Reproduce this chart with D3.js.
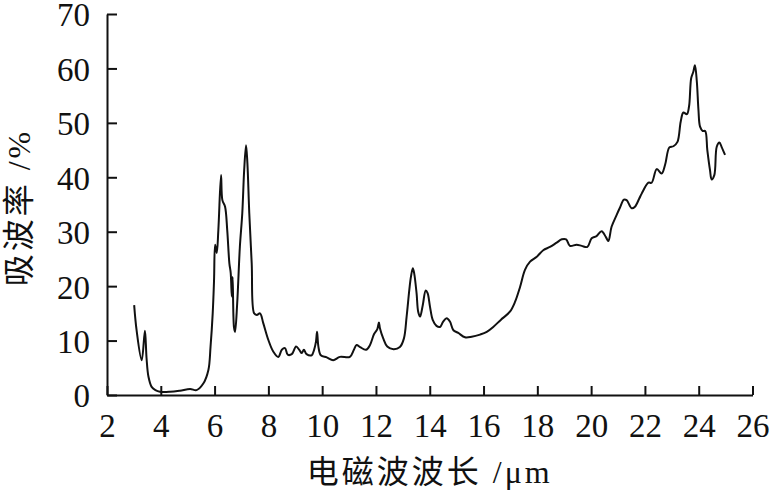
<!DOCTYPE html>
<html>
<head>
<meta charset="utf-8">
<script src="https://cdn.jsdelivr.net/npm/d3@7"></script>
<style>
  html, body { margin: 0; padding: 0; background: #fff; }
  svg { display: block; }
  text { font-family: "Liberation Serif", "Noto Sans CJK SC", serif; fill: #111; }
</style>
</head>
<body>
<svg id="chart" width="771" height="492"></svg>
<script>
// Wavelength (μm)
const wavelength = [
  3.01, 3.10, 3.29, 3.41, 3.47, 3.54, 3.66, 3.80, 3.97, 4.34, 4.71, 5.09, 5.33, 5.58, 5.77, 5.85, 5.93, 5.98,
  6.02, 6.08, 6.14, 6.24, 6.29, 6.39, 6.47, 6.55, 6.60, 6.64, 6.67, 6.72, 6.76, 6.84, 6.94, 7.03, 7.10, 7.17,
  7.22, 7.29, 7.38, 7.47, 7.57, 7.69, 7.81, 8.00, 8.18, 8.37, 8.50, 8.62, 8.72, 8.87, 9.03, 9.15, 9.24, 9.32,
  9.42, 9.61, 9.70, 9.77, 9.81, 9.86, 9.95, 10.17, 10.41, 10.66, 11.03, 11.18, 11.28, 11.41, 11.63, 11.78,
  11.93, 12.05, 12.11, 12.15, 12.27, 12.42, 12.65, 12.89, 13.04, 13.14, 13.24, 13.30, 13.37, 13.42, 13.51,
  13.57, 13.64, 13.74, 13.85, 13.92, 14.01, 14.11, 14.25, 14.38, 14.50, 14.63, 14.75, 14.88, 15.06, 15.31,
  15.56, 15.87, 16.12, 16.36, 16.64, 16.98, 17.17, 17.36, 17.54, 17.73, 17.98, 18.22, 18.47, 18.72, 18.91,
  19.07, 19.21, 19.46, 19.65, 19.86, 20.02, 20.20, 20.39, 20.55, 20.64, 20.76, 20.95, 21.07, 21.22, 21.32,
  21.51, 21.63, 21.79, 21.88, 22.13, 22.25, 22.44, 22.62, 22.75, 22.91, 23.06, 23.21, 23.33, 23.43, 23.56,
  23.64, 23.72, 23.80, 23.86, 23.93, 23.99, 24.05, 24.15, 24.24, 24.32, 24.42, 24.48, 24.58, 24.67, 24.77,
  24.85, 24.98
];
// Absorption rate (%)
const absorption = [
  16.5, 11.9, 6.4, 11.8, 6.8, 3.4, 1.5, 0.9, 0.6, 0.6, 0.8, 1.1, 0.9, 2.1, 4.6, 8.9, 15.0, 21.1,
  27.6, 26.1, 30.3, 40.4, 35.8, 34.6, 30.3, 24.2, 22.4, 18.1, 21.7, 12.5, 11.6, 16.8, 27.2, 33.4, 41.3, 45.9,
  42.6, 33.4, 24.2, 15.0, 14.7, 15.0, 13.2, 10.1, 8.0, 7.0, 8.3, 8.6, 7.4, 7.5, 8.9, 8.3, 7.7, 8.3,
  7.5, 7.3, 8.3, 9.8, 11.6, 8.9, 7.3, 6.9, 6.4, 7.0, 7.0, 8.3, 9.2, 8.8, 8.3, 9.2,
  11.2, 12.1, 13.3, 12.2, 10.4, 8.9, 8.4, 8.8, 10.4, 14.4, 19.3, 21.7, 23.3, 22.4, 18.7,
  15.3, 14.4, 16.5, 19.2, 18.7, 16.2, 13.8, 12.7, 12.5, 13.5, 14.1, 13.5, 11.9, 11.4, 10.6,
  10.7, 11.1, 11.6, 12.5, 13.8, 15.3, 17.1, 19.9, 23.0, 24.5, 25.4, 26.6, 27.2, 28.0, 28.6,
  28.6, 27.4, 27.6, 27.4, 27.2, 28.8, 29.2, 30.1, 29.0, 28.3, 30.9, 33.1, 34.4, 35.9, 35.8,
  34.3, 34.6, 36.1, 37.0, 39.0, 39.0, 41.5, 40.7, 42.3, 45.5, 45.7, 46.5, 50.2, 51.9, 51.6,
  53.0, 58.2, 59.4, 60.6, 57.6, 52.4, 49.3, 48.5, 48.5, 45.0, 41.3, 39.6, 40.4, 45.6, 46.4,
  45.6, 44.1
];
const xTicks = [2, 4, 6, 8, 10, 12, 14, 16, 18, 20, 22, 24, 26];
const yTicks = [0, 10, 20, 30, 40, 50, 60, 70];
const xTitle = "电磁波波长 /μm";
const yTitle = "吸波率 /%";

const svg = d3.select("#chart");
const mLeft = 107, mRight = 752.5, mTop = 14, mBottom = 395;

const x = d3.scaleLinear().domain([2, 26]).range([mLeft, mRight]);
const y = d3.scaleLinear().domain([0, 70]).range([mBottom, mTop]);

// X axis
const gx = svg.append("g").attr("transform", `translate(0,${mBottom})`)
  .call(d3.axisBottom(x).tickValues(xTicks).tickSizeInner(-9).tickSizeOuter(0).tickPadding(0));
gx.select(".domain").attr("stroke", "#111").attr("stroke-width", 2);
gx.selectAll(".tick line").attr("stroke", "#111").attr("stroke-width", 2);
gx.selectAll(".tick text").attr("y", 42).attr("dy", null)
  .style("font-size", "33px").style("font-family", "'Liberation Serif', serif").attr("fill", "#111");

// Y axis
const gy = svg.append("g").attr("transform", `translate(${mLeft},0)`)
  .call(d3.axisLeft(y).tickValues(yTicks).tickSizeInner(-10).tickSizeOuter(0).tickPadding(0));
gy.select(".domain").attr("stroke", "#111").attr("stroke-width", 2);
gy.selectAll(".tick line").attr("stroke", "#111").attr("stroke-width", 2);
gy.selectAll(".tick text").attr("x", -17).attr("dy", "0.36em")
  .style("font-size", "33px").style("font-family", "'Liberation Serif', serif").attr("fill", "#111");

// Curve
const pts = wavelength.map((w, i) => [w, absorption[i]]);
const line = d3.line().x(d => x(d[0])).y(d => y(d[1])).curve(d3.curveCatmullRom.alpha(0.5));
svg.append("path").datum(pts)
  .attr("d", line)
  .attr("fill", "none")
  .attr("stroke", "#111")
  .attr("stroke-width", 2)
  .attr("stroke-linejoin", "round");

// Titles
svg.append("text")
  .attr("x", (mLeft + mRight) / 2).attr("y", 483)
  .attr("text-anchor", "middle")
  .style("font-size", "32px").style("letter-spacing", "3px")
  .text(xTitle);

svg.append("text")
  .attr("transform", `translate(30,${(mTop + mBottom) / 2 + 3}) rotate(-90)`)
  .attr("text-anchor", "middle")
  .style("font-size", "32px").style("letter-spacing", "3px")
  .text(yTitle);
</script>
</body>
</html>
